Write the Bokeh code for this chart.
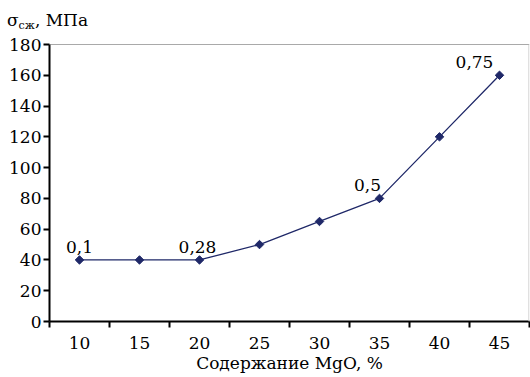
from bokeh.plotting import figure
from bokeh.models import FixedTicker, Span, Label, Range1d, Div
from bokeh.layouts import column
from bokeh.embed import file_html
from bokeh.resources import INLINE

mgo = [10, 15, 20, 25, 30, 35, 40, 45]
strength = [40, 40, 40, 50, 65, 80, 120, 160]
label_x = [10, 20, 35, 45]
label_y = [40, 40, 80, 160]
label_text = ["0,1", "0,28", "0,5", "0,75"]
y_ticks = [0, 20, 40, 60, 80, 100, 120, 140, 160, 180]

label_dx = [0, -2, -12, -25]
FONT = "DejaVu Serif"
COLOR = "#1f2868"
FS = "17px"

p = figure(width=530, height=347, output_backend="svg", toolbar_location=None,
           x_range=Range1d(7.5, 47.5), y_range=Range1d(0, 180),
           min_border_left=49, min_border_right=1, min_border_top=14, min_border_bottom=56)
p.outline_line_color = None
p.grid.visible = False
p.background_fill_color = "white"
p.border_fill_color = "white"

p.line(mgo, strength, line_color=COLOR, line_width=1.3)
p.scatter(mgo, strength, marker="square", angle=0.785398, size=6, fill_color=COLOR, line_color=COLOR)

for x, y, t, dx in zip(label_x, label_y, label_text, label_dx):
    p.add_layout(Label(x=x, y=y, text=t, x_offset=dx, y_offset=7, text_align="center",
                       text_baseline="bottom", text_font=FONT, text_font_size=FS,
                       text_color="black"))

p.add_layout(Span(location=180, dimension="width", line_color="#555555", line_width=1))
p.add_layout(Span(location=47.45, dimension="height", line_color="#cccccc", line_width=1))

xa = p.xaxis[0]
xa.ticker = FixedTicker(ticks=mgo, minor_ticks=[7.5 + 5 * i for i in range(9)])
xa.major_tick_out = 0
xa.major_tick_in = 0
xa.minor_tick_out = 6
xa.minor_tick_in = 0
xa.minor_tick_line_color = "black"
xa.minor_tick_line_width = 2
xa.axis_line_width = 2
xa.axis_line_color = "black"
xa.major_label_text_font = FONT
xa.major_label_text_font_size = FS
xa.major_label_text_color = "black"
xa.major_label_standoff = 9
xa.axis_label = "Содержание MgO, %"
xa.axis_label_text_font = FONT
xa.axis_label_text_font_size = FS
xa.axis_label_text_font_style = "normal"
xa.axis_label_text_color = "black"
xa.axis_label_standoff = 1

ya = p.yaxis[0]
ya.ticker = FixedTicker(ticks=y_ticks)
ya.minor_tick_line_color = None
ya.major_tick_out = 6
ya.major_tick_in = 0
ya.major_tick_line_width = 2
ya.major_tick_line_color = "black"
ya.axis_line_width = 2
ya.axis_line_color = "black"
ya.major_label_text_font = FONT
ya.major_label_text_font_size = FS
ya.major_label_text_color = "black"
ya.major_label_standoff = 2

title = Div(text='σ<sub style="font-size:11px;vertical-align:-3px">сж</sub>, МПа',
            width=530, height=30, margin=(0, 0, 0, 0),
            styles={"font-family": "DejaVu Serif", "font-size": "17px", "color": "black",
                    "padding-left": "7px", "padding-top": "10px", "line-height": "20px",
                    "background-color": "white"})

layout = column(title, p, spacing=0, margin=(0, 0, 0, 0))

open("out.html", "w").write(file_html(layout, INLINE))
